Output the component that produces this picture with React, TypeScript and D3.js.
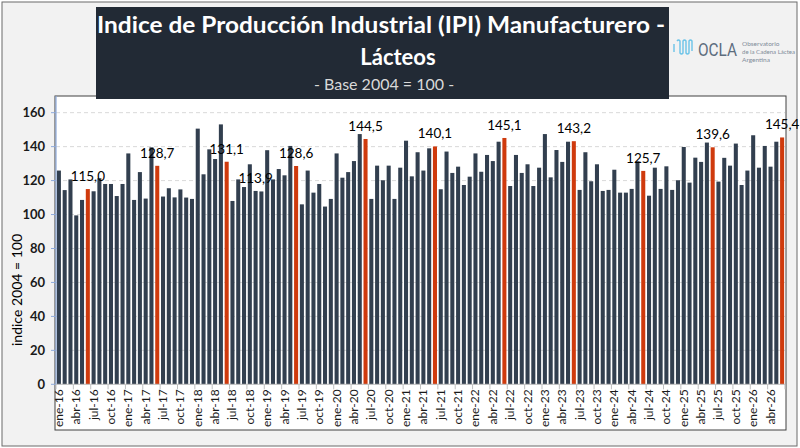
import React from 'react';
import * as d3 from 'd3';

// IPI lácteo, mensual ene-16 .. jun-26 (base 2004 = 100)
const months = ['ene', 'feb', 'mar', 'abr', 'may', 'jun', 'jul', 'ago', 'sep', 'oct', 'nov', 'dic'];
const startYear = 16;

const values2016 = [125.9, 114.4, 120.7, 99.5, 108.6, 115.0, 113.7, 121.4, 118.0, 118.0, 110.9, 118.0];
const values2017 = [136.0, 108.6, 125.0, 109.4, 139.6, 128.7, 110.6, 115.5, 110.1, 114.8, 110.0, 109.2];
const values2018 = [150.6, 123.7, 138.4, 132.7, 153.1, 131.1, 108.0, 120.7, 116.2, 129.6, 113.9, 113.6];
const values2019 = [137.9, 120.7, 126.8, 123.1, 140.4, 128.6, 106.0, 125.9, 112.9, 118.0, 104.7, 109.2];
const values2020 = [136.0, 121.7, 125.0, 131.5, 147.4, 144.5, 109.2, 128.8, 120.2, 128.8, 109.2, 127.6];
const values2021 = [143.5, 122.5, 136.7, 125.9, 139.0, 140.1, 114.9, 137.1, 124.5, 128.2, 117.4, 122.3];
const values2022 = [136.0, 125.2, 135.1, 131.5, 142.9, 145.1, 116.8, 135.1, 124.5, 129.6, 116.8, 127.6];
const values2023 = [147.4, 121.9, 138.0, 131.0, 142.9, 143.2, 114.5, 136.7, 119.6, 129.6, 113.9, 114.5];
const values2024 = [126.4, 112.9, 112.9, 115.1, 131.3, 125.7, 111.1, 127.6, 115.1, 128.4, 114.5, 120.2];
const values2025 = [139.8, 118.8, 133.5, 131.0, 142.4, 139.6, 119.4, 133.4, 128.8, 141.8, 117.4, 125.9];
const values2026 = [146.7, 127.6, 140.4, 128.2, 142.9, 145.4];

const values = [
  ...values2016, ...values2017, ...values2018, ...values2019, ...values2020, ...values2021,
  ...values2022, ...values2023, ...values2024, ...values2025, ...values2026,
];

const labels = values.map((_, i) => `${months[i % 12]}-${startYear + Math.floor(i / 12)}`);

// barras destacadas (junio de cada año) y etiquetas de valor
const highlightMonth = 'jun';
const extraLabelIdx = [34];
const yTicks = [0, 20, 40, 60, 80, 100, 120, 140, 160];

const FONT = 'Lato, "Open Sans", sans-serif';
const DARK = '#323f4f';
const RED = '#cf3a0d';

const fmt = (v: number) => v.toFixed(1).replace('.', ',');

const App: React.FC = () => {
  const width = 800;
  const height = 448;
  const left = 56;
  const right = 785;

  const x = d3.scaleBand<number>()
    .domain(values.map((_, i) => i))
    .range([left, right])
    .paddingInner(0.3)
    .paddingOuter(0.15);

  const y = d3.scaleLinear().domain([0, 170]).range([384.3, 95.7]);
  const step = x.step();
  const x0 = (i: number) => left + i * step; // borde de categoría

  const isRed = (i: number) => labels[i].startsWith(highlightMonth);
  const labelIdx = values.map((_, i) => i).filter(i => isRed(i) || extraLabelIdx.includes(i));

  return (
    <svg width={width} height={height} style={{ position: 'absolute', left: 0, top: 0 }} fontFamily={FONT}>
      <rect x={0} y={0} width={width} height={height} fill="#ffffff" />
      <rect x={2} y={2} width={795} height={444} fill="#f2f2f2" stroke="#6b6b6b" strokeWidth={1} />

      {/* area del grafico */}
      <rect x={left - 1} y={96} width={right - left + 2} height={334} fill="#ffffff" stroke="#404040" strokeWidth={1} />

      {/* grilla */}
      {yTicks.filter(t => t > 0).map(t => (
        <line key={t} x1={left} x2={right} y1={y(t)} y2={y(t)} stroke="#d9d9d9" strokeDasharray="4,3" strokeWidth={1} />
      ))}

      {/* barras */}
      {values.map((v, i) => (
        <rect key={i} x={x(i)} y={y(v)} width={x.bandwidth()} height={y(0) - y(v)} fill={isRed(i) ? RED : DARK} />
      ))}

      {/* ejes */}
      <line x1={left} x2={left} y1={96} y2={y(0)} stroke="#8eaadb" strokeWidth={1.2} />
      <line x1={left} x2={right} y1={y(0)} y2={y(0)} stroke="#bfbfbf" strokeWidth={1} />
      {yTicks.map(t => (
        <g key={t}>
          <line x1={left - 5} x2={left} y1={y(t)} y2={y(t)} stroke="#8eaadb" strokeWidth={1} />
          <text x={45} y={y(t)} dy="0.35em" textAnchor="end" fontSize={13} fontWeight="bold" fill="#1a1a1a">{t}</text>
        </g>
      ))}
      {values.map((_, i) => i).filter(i => i % 3 === 0).map(i => (
        <g key={i}>
          <line x1={x0(i)} x2={x0(i)} y1={y(0)} y2={y(0) + 5} stroke="#bfbfbf" strokeWidth={1} />
          <text
            transform={`translate(${x0(i) + step / 2 + 4},${y(0) + 5}) rotate(-90)`}
            textAnchor="end"
            fontSize={12}
            fill="#1a1a1a"
          >{labels[i]}</text>
        </g>
      ))}
      <line x1={right} x2={right} y1={y(0)} y2={y(0) + 5} stroke="#bfbfbf" strokeWidth={1} />

      {/* etiquetas de datos */}
      {labelIdx.map(i => (
        <text key={i} x={(x(i) as number) + x.bandwidth() / 2} y={y(values[i]) - 8} textAnchor="middle" fontSize={13.5} fill="#000000">
          {fmt(values[i])}
        </text>
      ))}

      <text transform="translate(22,290) rotate(-90)" textAnchor="middle" fontSize={14} fill="#000000">indice 2004 = 100</text>

      {/* titulo */}
      <rect x={96} y={7} width={573} height={92} fill="#222a35" />
      <text x={381} y={33} textAnchor="middle" fontSize={22} fontWeight="bold" fill="#ffffff" textLength={568} lengthAdjust="spacingAndGlyphs">
        Indice de Producción Industrial (IPI) Manufacturero -
      </text>
      <text x={398} y={65} textAnchor="middle" fontSize={22} fontWeight="bold" fill="#ffffff">Lácteos</text>
      <text x={384} y={90} textAnchor="middle" fontSize={16} fill="#d9d9d9">- Base 2004 = 100 -</text>

      {/* logo */}
      <path
        d="M674,44 v8 M677,41 q1.5,-2 3,0 v12 q1.5,2 3,0 v-12 q1.5,-2 3,0 v12 q1.5,2 3,0 v-12 q1.5,-2 3,0 v10"
        fill="none" stroke="#6cc4e8" strokeWidth={1.4}
      />
      <text x={698} y={56} fontSize={18} fill="#5d6d7e" textLength={39} lengthAdjust="spacingAndGlyphs"
        fontFamily='Roboto, "Liberation Sans", sans-serif'>OCLA</text>
      <text x={742} y={46} fontSize={6.5} fill="#7f8c99">Observatorio</text>
      <text x={742} y={54} fontSize={6.5} fill="#7f8c99" textLength={53} lengthAdjust="spacingAndGlyphs">de la Cadena Láctea</text>
      <text x={742} y={62} fontSize={6.5} fill="#7f8c99">Argentina</text>
    </svg>
  );
};

export default App;
